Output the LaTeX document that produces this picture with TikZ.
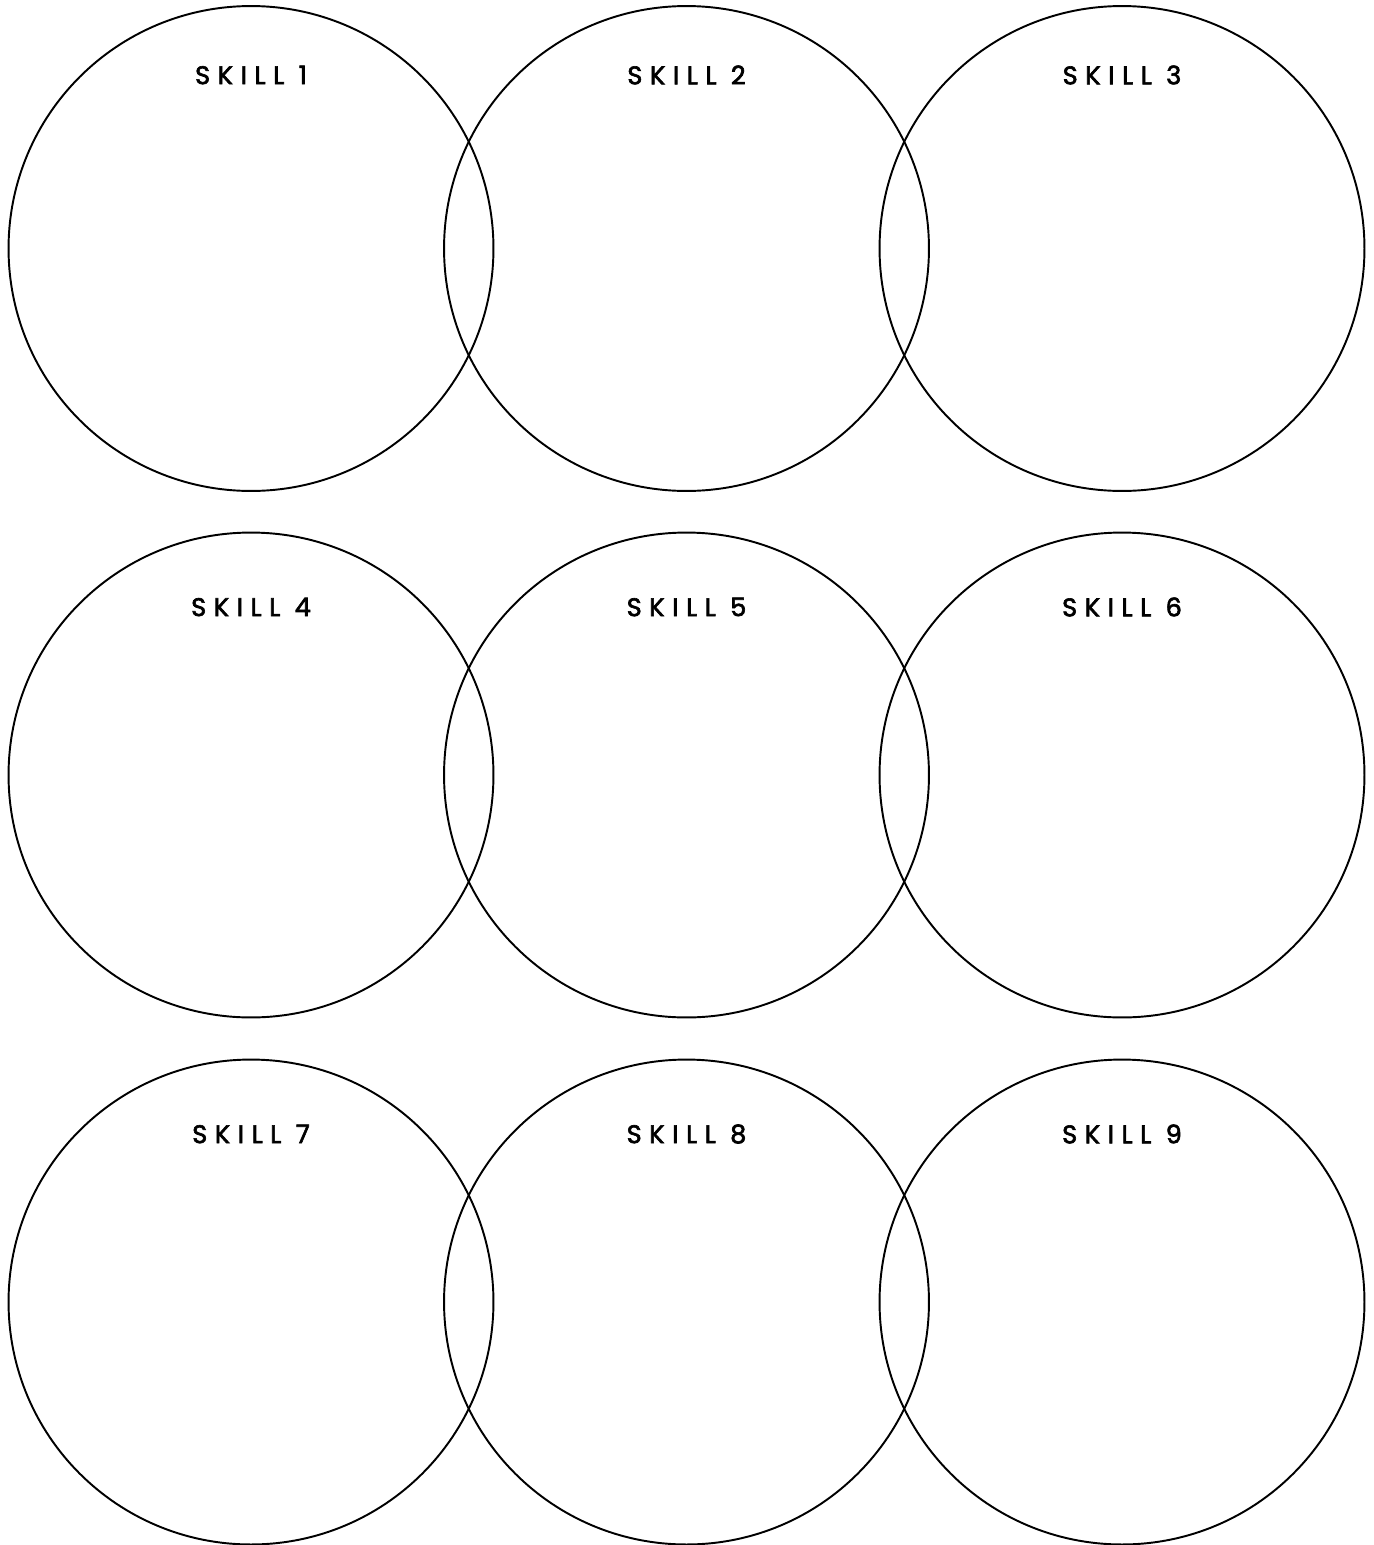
\documentclass[tikz,border=0pt]{standalone}
\usepackage{fontspec}
\setmainfont{Poppins}
\newfontfamily\skillfont[LetterSpace=30, FakeBold=2.5]{Poppins}
\usetikzlibrary{positioning}

\tikzset{
  skillcircle/.style={draw, circle, line width=1.1pt, minimum size=9.70cm, inner sep=0pt, outer sep=0pt},
  skilllabel/.style={font=\skillfont\fontsize{14.5}{16}\selectfont, inner sep=0pt}
}

\begin{document}
\begin{tikzpicture}[x=0.02cm, y=-0.02cm]
            % Page frame
            \useasboundingbox (0, 0) rectangle (1373, 1545);
            % Draw the circles and their labels
            \foreach \row/\cy/\ly in {0/248.5/75, 1/775/607, 2/1302/1134} {
              \foreach \col/\cx in {0/251, 1/686.5, 2/1122} {
                \pgfmathtruncatemacro{\n}{3*\row+\col+1}
                \node[skillcircle] (circle\n) at (\cx, \cy) {};
                \node[skilllabel] (label\n) at (\cx, \ly) {SKILL \n};
              }
            }
          \end{tikzpicture}
\end{document}
